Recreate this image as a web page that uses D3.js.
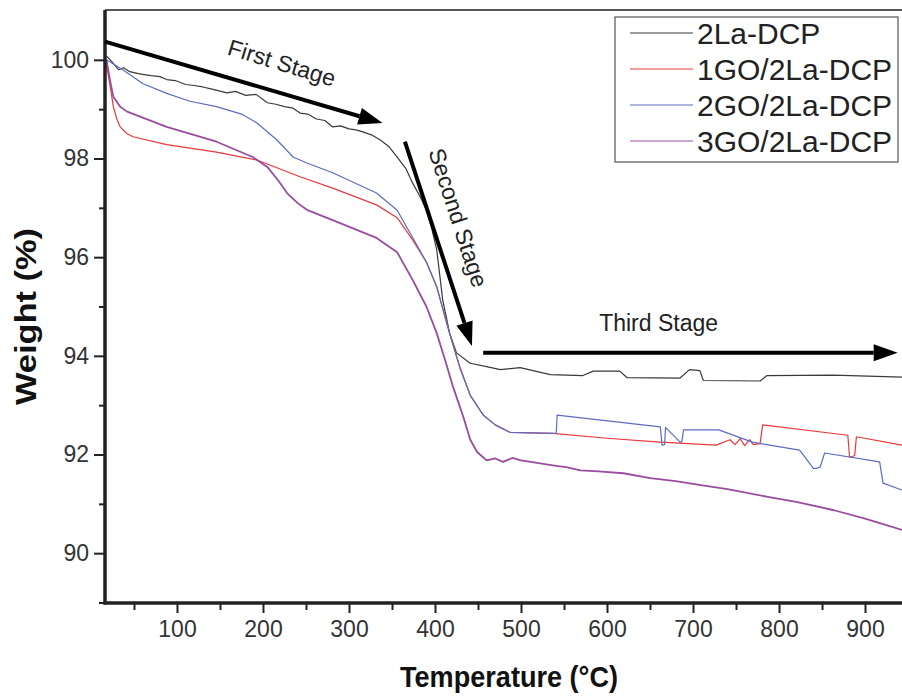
<!DOCTYPE html>
<html>
<head>
<meta charset="utf-8">
<script src="https://cdn.jsdelivr.net/npm/d3@7"></script>
<style>
  body { margin: 0; background: #fff; }
  svg { display: block; font-family: "Liberation Sans", Arial, sans-serif; }
</style>
</head>
<body>
<svg id="chart" width="902" height="698"></svg>
<script>
// series names + colours
const seriesNames = ["2La-DCP", "1GO/2La-DCP", "2GO/2La-DCP", "3GO/2La-DCP"];
const seriesColors = ["#3a3a3a", "#e8383c", "#5b6cc2", "#9a4c9e"];

// 2La-DCP
const tBlack = [18, 25, 32, 38, 45, 55, 62, 70, 80, 88, 98, 110, 120, 130, 142, 158, 168, 180, 192, 205, 215, 225, 235, 243, 252, 262, 272, 281, 290, 300, 308, 316, 326, 336, 346, 356, 366, 374, 382, 390, 396, 402, 409, 417, 425, 441, 460, 476, 499, 534, 572, 584, 615, 623, 685, 696, 708, 712, 778, 786, 863, 943];
const wBlack = [100.08, 99.95, 99.8, 99.84, 99.76, 99.72, 99.7, 99.68, 99.66, 99.6, 99.58, 99.5, 99.48, 99.45, 99.4, 99.33, 99.36, 99.28, 99.3, 99.13, 99.1, 99.05, 99.02, 98.92, 98.9, 98.8, 98.77, 98.64, 98.66, 98.6, 98.58, 98.54, 98.48, 98.38, 98.25, 98.03, 97.8, 97.5, 97.25, 96.96, 96.6, 96.15, 95.13, 94.46, 94.06, 93.85, 93.78, 93.72, 93.76, 93.62, 93.6, 93.69, 93.69, 93.56, 93.55, 93.72, 93.7, 93.5, 93.49, 93.6, 93.61, 93.57];

// 1GO/2La-DCP
const tRed = [18, 22, 26, 30, 34, 42, 49, 88, 146, 193, 243, 281, 332, 356, 374, 390, 402, 417, 429, 441, 456, 470, 487, 537, 600, 662, 727, 743, 749, 755, 760, 766, 770, 778, 781, 880, 882, 884, 888, 890, 943];
const wRed = [99.9, 99.5, 99.05, 98.8, 98.64, 98.5, 98.44, 98.28, 98.13, 97.97, 97.63, 97.4, 97.06, 96.8, 96.35, 95.9, 95.4, 94.46, 93.77, 93.2, 92.8, 92.6, 92.45, 92.43, 92.33, 92.25, 92.19, 92.3, 92.2, 92.32, 92.18, 92.3, 92.2, 92.22, 92.6, 92.39, 91.95, 91.95, 91.98, 92.36, 92.19];

// 2GO/2La-DCP
const tBlue = [18, 37, 60, 88, 115, 146, 175, 193, 216, 235, 251, 281, 332, 356, 374, 390, 402, 417, 429, 441, 456, 470, 487, 537, 541, 542, 662, 664, 667, 668, 685, 687, 689, 703, 730, 769, 824, 840, 844, 848, 853, 917, 921, 943];
const wBlue = [100.0, 99.8, 99.52, 99.32, 99.16, 99.05, 98.9, 98.72, 98.38, 98.03, 97.91, 97.71, 97.3, 96.95, 96.4, 95.9, 95.4, 94.45, 93.75, 93.2, 92.8, 92.6, 92.45, 92.43, 92.43, 92.8, 92.56, 92.19, 92.2, 92.55, 92.25, 92.26, 92.5, 92.5, 92.5, 92.25, 92.09, 91.72, 91.72, 91.75, 92.03, 91.85, 91.42, 91.28];

// 3GO/2La-DCP
const tPurple = [18, 22, 26, 34, 42, 88, 146, 188, 205, 218, 228, 240, 251, 281, 332, 356, 374, 390, 402, 412, 421, 433, 441, 449, 460, 470, 479, 490, 500, 515, 537, 554, 569, 590, 619, 650, 680, 709, 740, 787, 820, 864, 900, 943];
const wPurple = [100.0, 99.6, 99.25, 99.05, 98.95, 98.64, 98.34, 98.03, 97.83, 97.55, 97.3, 97.1, 96.96, 96.75, 96.39, 96.1, 95.54, 95.0, 94.46, 93.9, 93.37, 92.76, 92.3, 92.05, 91.88, 91.92, 91.85, 91.93, 91.88, 91.84, 91.78, 91.74, 91.68, 91.66, 91.62, 91.52, 91.46, 91.38, 91.3, 91.14, 91.04, 90.87, 90.7, 90.47];

const seriesT = [tBlack, tRed, tBlue, tPurple];
const seriesW = [wBlack, wRed, wBlue, wPurple];

// axis ticks
const xMajorTicks = [100, 200, 300, 400, 500, 600, 700, 800, 900];
const xMinorTicks = [50, 150, 250, 350, 450, 550, 650, 750, 850];
const yMajorTicks = [90, 92, 94, 96, 98, 100];
const yMinorTicks = [89, 91, 93, 95, 97, 99];

// stage annotations: [t0, w0, t1, w1]
const stageLabels = ["First Stage", "Second Stage", "Third Stage"];
const stageArrows = [
  [16.3, 100.37, 339, 98.72],
  [365, 98.34, 443, 94.2],
  [456, 94.06, 938, 94.06]
];
const stageTextPos = [[222, 99.94], [427, 96.8], [660, 94.67]];
const stageTextAngle = [17, 72, 0];

const svg = d3.select("#chart");
const plotLeft = 105, plotTop = 10, plotRight = 902, plotBottom = 603;

const x = d3.scaleLinear().domain([16.3, 943]).range([plotLeft, plotRight]);
const y = d3.scaleLinear().domain([88.99, 101.01]).range([plotBottom, plotTop]);

// top frame line
svg.append("line")
  .attr("x1", plotLeft).attr("x2", plotRight)
  .attr("y1", plotTop).attr("y2", plotTop)
  .attr("stroke", "#555").attr("stroke-width", 2);

// curves
const line = d3.line().x(d => x(d[0])).y(d => y(d[1]));
const curvesG = svg.append("g").attr("class", "curves");
seriesT.forEach((ts, i) => {
  const pts = ts.map((t, j) => [t, seriesW[i][j]]);
  curvesG.append("path")
    .attr("d", line(pts))
    .attr("fill", "none")
    .attr("stroke", seriesColors[i])
    .attr("stroke-width", i === 3 ? 1.8 : 1.2)
    .attr("stroke-linejoin", "round");
});

// axes
function styleAxis(g) {
  g.select(".domain").remove();
  g.selectAll("line").attr("stroke", "#222").attr("stroke-width", 2);
  g.selectAll("text").attr("fill", "#333").attr("font-size", 23);
}

svg.append("g")
  .attr("transform", `translate(0,${plotBottom})`)
  .call(d3.axisBottom(x).tickValues(xMinorTicks).tickSize(7).tickFormat(""))
  .call(styleAxis);
svg.append("g")
  .attr("transform", `translate(0,${plotBottom})`)
  .call(d3.axisBottom(x).tickValues(xMajorTicks).tickSize(10).tickPadding(8).tickFormat(d3.format("d")))
  .call(styleAxis);

svg.append("g")
  .attr("transform", `translate(${plotLeft},0)`)
  .call(d3.axisLeft(y).tickValues(yMinorTicks).tickSize(6).tickFormat(""))
  .call(styleAxis);
svg.append("g")
  .attr("transform", `translate(${plotLeft},0)`)
  .call(d3.axisLeft(y).tickValues(yMajorTicks).tickSize(11).tickPadding(5).tickFormat(d3.format("d")))
  .call(styleAxis);

// axis lines
svg.append("line")
  .attr("x1", plotLeft).attr("x2", plotLeft).attr("y1", plotTop).attr("y2", plotBottom + 1.5)
  .attr("stroke", "#222").attr("stroke-width", 3.5);
svg.append("line")
  .attr("x1", plotLeft - 1.5).attr("x2", plotRight).attr("y1", plotBottom).attr("y2", plotBottom)
  .attr("stroke", "#222").attr("stroke-width", 3.5);

// axis titles
svg.append("text")
  .attr("x", 400).attr("y", 687)
  .attr("font-size", 30).attr("font-weight", "bold").attr("fill", "#111")
  .attr("textLength", 218).attr("lengthAdjust", "spacingAndGlyphs")
  .text("Temperature (°C)");
svg.append("text")
  .attr("transform", "translate(36,405) rotate(-90)")
  .attr("font-size", 30).attr("font-weight", "bold").attr("fill", "#111")
  .attr("textLength", 177).attr("lengthAdjust", "spacingAndGlyphs")
  .text("Weight  (%)");

// stage arrows
const annG = svg.append("g").attr("class", "stages");
stageArrows.forEach((a, i) => {
  const x0 = x(a[0]), y0 = y(a[1]), x1 = x(a[2]), y1 = y(a[3]);
  const ang = Math.atan2(y1 - y0, x1 - x0);
  const headLen = 24, headW = 8.5;
  const bx = x1 - Math.cos(ang) * headLen, by = y1 - Math.sin(ang) * headLen;
  annG.append("line")
    .attr("x1", x0).attr("y1", y0).attr("x2", bx).attr("y2", by)
    .attr("stroke", "#000").attr("stroke-width", 4);
  const nx = -Math.sin(ang) * headW, ny = Math.cos(ang) * headW;
  annG.append("path")
    .attr("d", `M ${x1} ${y1} L ${bx + nx} ${by + ny} L ${bx - nx} ${by - ny} Z`)
    .attr("fill", "#000");
  const p = stageTextPos[i];
  annG.append("text")
    .attr("transform", `translate(${x(p[0])},${y(p[1])}) rotate(${stageTextAngle[i]})`)
    .attr("text-anchor", "middle")
    .attr("dy", "0.35em")
    .attr("font-size", 23).attr("fill", "#222")
    .text(stageLabels[i]);
});

// legend
const lg = svg.append("g").attr("class", "legend");
lg.append("rect")
  .attr("x", 615).attr("y", 17).attr("width", 283).attr("height", 145)
  .attr("fill", "#fff").attr("stroke", "#555").attr("stroke-width", 1.2);
seriesNames.forEach((name, i) => {
  const yy = 33 + i * 36;
  lg.append("line")
    .attr("x1", 630).attr("x2", 693).attr("y1", yy).attr("y2", yy)
    .attr("stroke", seriesColors[i]).attr("stroke-width", 1.2);
  lg.append("text")
    .attr("x", 697).attr("y", yy + 11)
    .attr("font-size", 30).attr("fill", "#222")
    .text(name);
});
</script>
</body>
</html>
